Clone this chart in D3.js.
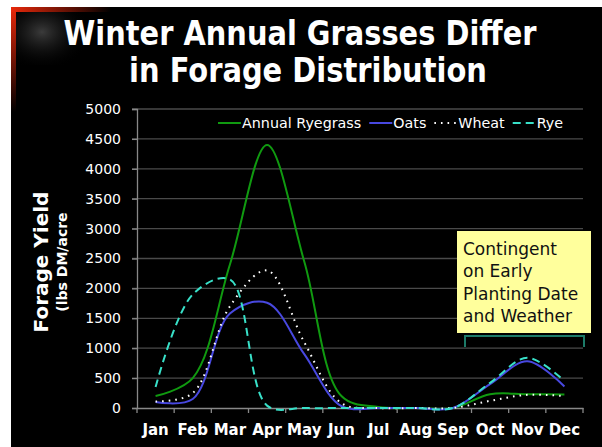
<!DOCTYPE html>
<html><head><meta charset="utf-8">
<script src="https://cdn.jsdelivr.net/npm/d3@7"></script>
<style>body{margin:0;background:#fff}svg{display:block}</style>
</head><body>
<script>
const months = ["Jan","Feb","Mar","Apr","May","Jun","Jul","Aug","Sep","Oct","Nov","Dec"];
const ryegrass = [200, 500, 2400, 4400, 2450, 200, 15, 0, 0, 230, 230, 225];
const oats     = [100, 150, 1580, 1760, 900, 30, 0, 0, 0, 400, 780, 360];
const wheat    = [110, 250, 1700, 2300, 1100, 80, 0, 0, 0, 120, 220, 200];
const rye      = [350, 1900, 2150, 40, 0, 0, 0, 0, 0, 420, 840, 450];
const yTicks   = [0, 500, 1000, 1500, 2000, 2500, 3000, 3500, 4000, 4500, 5000];
const seriesNames = ["Annual Ryegrass", "Oats", "Wheat", "Rye"];
const titleLines = ["Winter Annual Grasses Differ", "in Forage Distribution"];
const noteLines = ["Contingent", "on Early", "Planting Date", "and Weather"];

const W = 602, H = 447;
const svg = d3.select("body").append("svg").attr("width", W).attr("height", H);
const defs = svg.append("defs");

// background
svg.append("rect").attr("x", 0).attr("y", 0).attr("width", W).attr("height", H).attr("fill", "#fff");
svg.append("rect").attr("x", 11).attr("y", 7).attr("width", W - 11).attr("height", H - 7).attr("fill", "#000");

// corner decoration
const gV = defs.append("linearGradient").attr("id", "gv").attr("x1", 0).attr("y1", 0).attr("x2", 0).attr("y2", 1);
gV.append("stop").attr("offset", "0%").attr("stop-color", "#e8280a");
gV.append("stop").attr("offset", "100%").attr("stop-color", "#000");
const gH = defs.append("linearGradient").attr("id", "gh").attr("x1", 0).attr("y1", 0).attr("x2", 1).attr("y2", 0);
gH.append("stop").attr("offset", "0%").attr("stop-color", "#e8280a");
gH.append("stop").attr("offset", "100%").attr("stop-color", "#000");
const gG = defs.append("radialGradient").attr("id", "gg").attr("cx", "0.4").attr("cy", "0.4").attr("r", "0.7");
gG.append("stop").attr("offset", "0%").attr("stop-color", "#4a4a4a").attr("stop-opacity", 0.8);
gG.append("stop").attr("offset", "100%").attr("stop-color", "#000").attr("stop-opacity", 0);
svg.append("rect").attr("x", 14).attr("y", 10).attr("width", 70).attr("height", 55).attr("fill", "url(#gg)");
svg.append("rect").attr("x", 11).attr("y", 7).attr("width", 5).attr("height", 105).attr("fill", "url(#gv)");
svg.append("rect").attr("x", 11).attr("y", 7).attr("width", 100).attr("height", 5).attr("fill", "url(#gh)");

// title (natural text, scaled horizontally to the reference width)
const titleY = [44.5, 81.5];
const titleW = [473, 358];
const titleX = [300, 308];
titleLines.forEach((t, i) => {
  const g = svg.append("g");
  const tx = g.append("text").attr("x", 0).attr("y", 0)
    .attr("text-anchor", "middle")
    .attr("font-family", "DejaVu Sans").attr("font-weight", "bold").attr("font-size", 33)
    .attr("fill", "#fff").text(t);
  const nat = tx.node().getComputedTextLength();
  g.attr("transform", `translate(${titleX[i]},${titleY[i]}) scale(${titleW[i] / nat},1)`);
});

// scales
const x = d3.scaleBand().domain(months).range([137, 583]).padding(0);
const y = d3.scaleLinear().domain([0, 5000]).range([408, 109]);

// gridlines
svg.append("g").selectAll("line").data(yTicks.filter(d => d > 0)).join("line")
  .attr("x1", 132).attr("x2", 583).attr("y1", d => y(d)).attr("y2", d => y(d))
  .attr("stroke", "#4a4a4a").attr("stroke-width", 1.3);

// y axis
const yAxis = svg.append("g").attr("transform", "translate(137,0)")
  .call(d3.axisLeft(y).tickValues(yTicks).tickSize(5).tickPadding(11).tickFormat(d3.format("d")));
yAxis.select(".domain").attr("stroke", "#888").attr("stroke-width", 1.3);
yAxis.selectAll(".tick line").attr("stroke", "#888").attr("stroke-width", 1.3);
yAxis.selectAll(".tick text").attr("fill", "#fff").attr("font-family", "DejaVu Sans").attr("font-size", 14);

// x axis
const xAxis = svg.append("g").attr("transform", "translate(0,408)")
  .call(d3.axisBottom(x).tickSize(0).tickPadding(16));
xAxis.select(".domain").attr("stroke", "#888").attr("stroke-width", 1.3);
xAxis.selectAll(".tick text").attr("fill", "#fff").attr("font-family", "DejaVu Sans")
  .attr("font-weight", "bold").attr("font-size", 15);
const bounds = months.map(m => x(m)).concat([x.range()[1]]);
xAxis.append("g").selectAll("line").data(bounds).join("line")
  .attr("x1", d => d).attr("x2", d => d).attr("y1", 0).attr("y2", 5)
  .attr("stroke", "#888").attr("stroke-width", 1.3);

// axis titles
svg.append("text").attr("transform", "translate(48,262) rotate(-90)")
  .attr("text-anchor", "middle").attr("font-family", "DejaVu Sans").attr("font-weight", "bold")
  .attr("font-size", 20).attr("fill", "#fff").text("Forage Yield");
svg.append("text").attr("transform", "translate(67,262) rotate(-90)")
  .attr("text-anchor", "middle").attr("font-family", "DejaVu Sans").attr("font-weight", "bold")
  .attr("font-size", 14).attr("fill", "#fff").text("(lbs DM/acre");

// series
const series = [
  {name: seriesNames[0], values: ryegrass, color: "#109a10", dash: null},
  {name: seriesNames[1], values: oats, color: "#4848e0", dash: null},
  {name: seriesNames[2], values: wheat, color: "#ffffff", dash: "1.6,5"},
  {name: seriesNames[3], values: rye, color: "#38e0c8", dash: "8,5"}
];
const line = d3.line()
  .x((d, i) => x(months[i]) + x.bandwidth() / 2)
  .y(d => y(d))
  .curve(d3.curveCatmullRom.alpha(0.5));
svg.append("g").selectAll("path").data(series).join("path")
  .attr("d", s => line(s.values))
  .attr("fill", "none").attr("stroke", s => s.color).attr("stroke-width", 2)
  .attr("stroke-dasharray", s => s.dash);

// legend
let lx = 218;
const ly = 123;
const lg = svg.append("g");
series.forEach(s => {
  lg.append("line").attr("x1", lx).attr("x2", lx + 23).attr("y1", ly).attr("y2", ly)
    .attr("stroke", s.color).attr("stroke-width", 2).attr("stroke-dasharray", s.dash);
  const t = lg.append("text").attr("x", lx + 24).attr("y", ly + 5)
    .attr("font-family", "DejaVu Sans").attr("font-size", 14.3).attr("fill", "#fff").text(s.name);
  lx += 24 + t.node().getComputedTextLength() + 8;
});

// annotation box
svg.append("rect").attr("x", 457).attr("y", 231).attr("width", 134).attr("height", 102).attr("fill", "#ffff9c");
const noteY = [255, 277, 299.5, 322];
noteLines.forEach((t, i) => {
  svg.append("text").attr("x", 463).attr("y", noteY[i]).attr("font-family", "DejaVu Sans")
    .attr("font-size", 17).attr("fill", "#111").text(t);
});
// bracket
svg.append("path").attr("d", "M465,347 V336 H584 V347")
  .attr("fill", "none").attr("stroke", "#1c7a68").attr("stroke-width", 2);
</script>
</body></html>
